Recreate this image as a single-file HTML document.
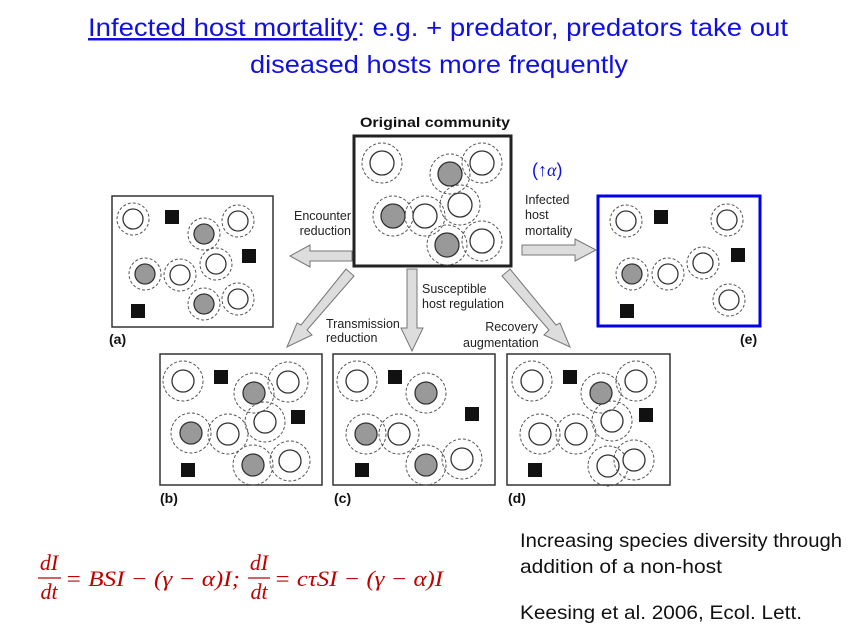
<!DOCTYPE html>
<html><head><meta charset="utf-8"><style>
html,body{margin:0;padding:0;background:#fff;width:851px;height:641px;overflow:hidden}
svg{display:block}
.t{font-family:"Liberation Sans",sans-serif}
</style></head><body>
<svg id="s" width="851" height="641" viewBox="0 0 851 641">
<text class="t" x="88" y="36" font-size="25" fill="#1010e0" textLength="700" lengthAdjust="spacingAndGlyphs"><tspan text-decoration="underline">Infected host mortality</tspan>: e.g. + predator, predators take out</text>
<text class="t" x="250" y="73" font-size="25" fill="#1010e0" textLength="378" lengthAdjust="spacingAndGlyphs">diseased hosts more frequently</text>

<text class="t" x="360" y="127" font-size="14" font-weight="bold" fill="#111" textLength="150" lengthAdjust="spacingAndGlyphs">Original community</text>
<g id="boxes"></g>
<g fill="#ddd" stroke="#777" stroke-width="1">
<polygon points="352,251 310,251 310,245 290,256 310,267 310,261 352,261"/>
<polygon points="522,245 575,245 575,239 596,250 575,261 575,255 522,255"/>
<polygon points="407,269 417,269 417,328 423,328 412,351 401,328 407,328"/>
<polygon points="346,269 354,276 307,330 312,335 287,347 297,323 301,325"/>
<polygon points="510,269 502,276 549,330 544,335 570,347 560,323 556,325"/>
</g>
<g class="t" font-size="12.5" fill="#222">
<text x="351" y="220" text-anchor="end">Encounter</text>
<text x="351" y="235" text-anchor="end">reduction</text>
<text x="525" y="204">Infected</text>
<text x="525" y="219">host</text>
<text x="525" y="235">mortality</text>
<text x="422" y="293">Susceptible</text>
<text x="422" y="308">host regulation</text>
<text x="326" y="328">Transmission</text>
<text x="326" y="342">reduction</text>
<text x="538" y="331" text-anchor="end">Recovery</text>
<text x="463" y="347">augmentation</text>
</g>
<text class="t" x="532" y="176" font-size="18" fill="#1010e0">(↑<tspan font-style="italic" font-family="Liberation Serif">α</tspan>)</text>
<g class="t" font-size="14" font-weight="bold" fill="#111">
<text x="109" y="344">(a)</text>
<text x="740" y="344">(e)</text>
<text x="160" y="503">(b)</text>
<text x="334" y="503">(c)</text>
<text x="508" y="503">(d)</text>
</g>
<g font-family="Liberation Serif" font-style="italic" font-size="22" fill="#c00000">
<text x="49" y="570" text-anchor="middle">dI</text>
<line x1="38" y1="578" x2="61" y2="578" stroke="#c00000" stroke-width="1.2"/>
<text x="49" y="599" text-anchor="middle">dt</text>
<text x="65" y="586" textLength="175" lengthAdjust="spacingAndGlyphs">= BSI − (γ − α)I;</text>
<text x="259" y="570" text-anchor="middle">dI</text>
<line x1="248" y1="578" x2="270" y2="578" stroke="#c00000" stroke-width="1.2"/>
<text x="259" y="599" text-anchor="middle">dt</text>
<text x="274" y="586" textLength="169" lengthAdjust="spacingAndGlyphs">= cτSI − (γ − α)I</text>
</g>
<g class="t" font-size="19.5" fill="#111">
<text x="520" y="547" textLength="322" lengthAdjust="spacingAndGlyphs">Increasing species diversity through</text>
<text x="520" y="573" textLength="202" lengthAdjust="spacingAndGlyphs">addition of a non-host</text>
<text x="520" y="619" textLength="282" lengthAdjust="spacingAndGlyphs">Keesing et al. 2006, Ecol. Lett.</text>
</g>
</svg>
<script>
const panels=[
 {n:'original',x:354,y:136,w:157,h:130,sw:3,c:'#222',r1:20,r2:12,
  o:[[382,163],[482,163],[425,216],[460,205],[482,241]],f:[[450,174],[393,216],[447,245]],q:[]},
 {n:'a',x:112,y:196,w:161,h:131,sw:1.5,c:'#333',r1:16,r2:10,
  o:[[133,219],[238,221],[216,264],[180,275],[238,299]],f:[[204,234],[145,274],[204,304]],q:[[172,217],[249,256],[138,311]]},
 {n:'e',x:598,y:196,w:162,h:130,sw:3,c:'#0000ee',r1:16,r2:10,
  o:[[626,221],[727,220],[703,263],[668,274],[729,300]],f:[[632,274]],q:[[661,217],[738,255],[627,311]]},
 {n:'b',x:160,y:354,w:162,h:131,sw:1.5,c:'#333',r1:20,r2:11,
  o:[[183,381],[288,382],[265,422],[228,434],[290,461]],f:[[254,393],[191,433],[253,465]],q:[[221,377],[298,417],[188,470]]},
 {n:'c',x:333,y:354,w:162,h:131,sw:1.5,c:'#333',r1:20,r2:11,
  o:[[357,381],[399,434],[462,459]],f:[[426,393],[366,434],[426,465]],q:[[395,377],[472,414],[362,470]]},
 {n:'d',x:507,y:354,w:163,h:131,sw:1.5,c:'#333',r1:20,r2:11,
  o:[[532,381],[636,381],[612,421],[540,434],[576,434],[608,466],[634,460]],f:[[601,393]],q:[[570,377],[646,415],[535,470]]}
];
const NS='http://www.w3.org/2000/svg',G=document.getElementById('boxes');
function mk(t,a,p){const e=document.createElementNS(NS,t);for(const k in a)e.setAttribute(k,a[k]);p.appendChild(e);return e;}
panels.forEach(p=>{
 const g=mk('g',{},G);
 
 
 mk('rect',{x:p.x,y:p.y,width:p.w,height:p.h,fill:'#fff',stroke:p.c,'stroke-width':p.sw},g);
 const all=p.o.map(v=>[v,0]).concat(p.f.map(v=>[v,1]));
 all.forEach(([v,inf])=>{
  const h=mk('g',{},g);
  
  
  mk('circle',{cx:v[0],cy:v[1],r:p.r1,fill:'none',stroke:'#555','stroke-width':1,'stroke-dasharray':'3,2'},h);
  mk('circle',{cx:v[0],cy:v[1],r:p.r2,fill:inf?'#999':'#fff',stroke:'#333','stroke-width':1.3},h);
 });
 p.q.forEach(v=>{
  const r=mk('rect',{x:v[0]-7,y:v[1]-7,width:14,height:14,fill:'#111'},g);
  
  
 });
});
</script>
</body></html>
